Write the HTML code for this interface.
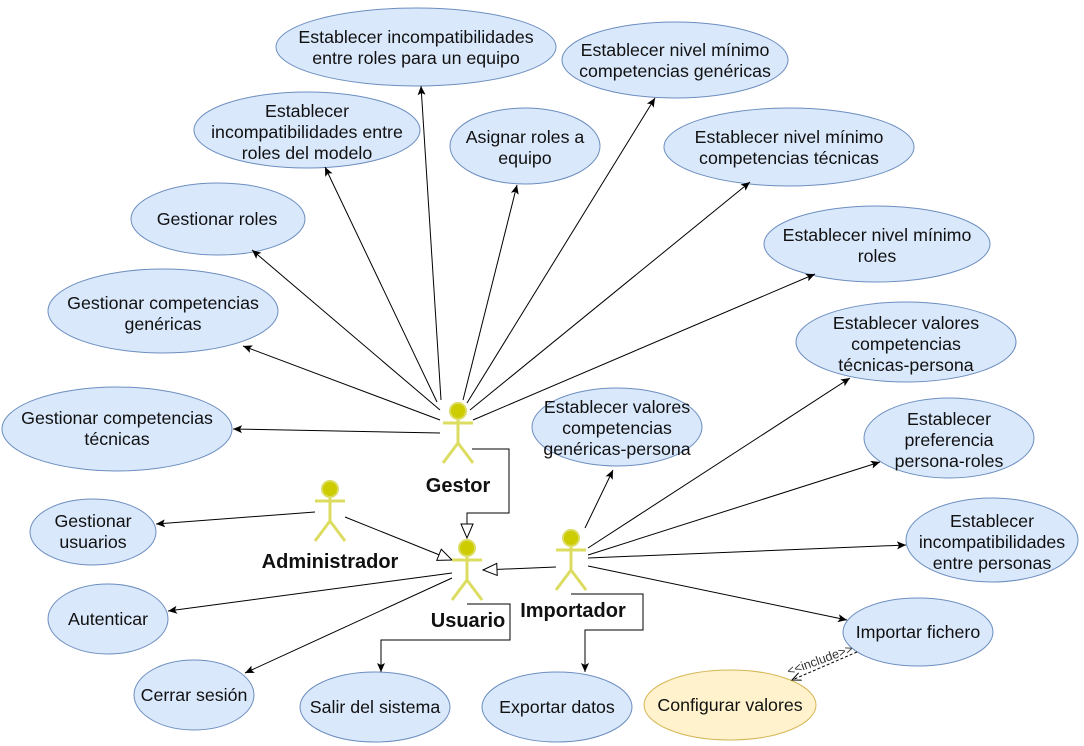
<!DOCTYPE html>
<html><head><meta charset="utf-8"><style>
html,body{margin:0;padding:0;background:#fff}
svg{display:block}
text{font-family:"Liberation Sans",sans-serif;font-size:17.8px;fill:#111;text-anchor:middle}
.e{fill:#dae8fc;stroke:#6c8ebf;stroke-width:1}
.l{stroke:#000;stroke-width:1;fill:none}
.a text{font-weight:bold;font-size:20px}
.act line{stroke:#dcdc60;stroke-width:3}
.act circle{fill:#cccc00;stroke:#dcdc60;stroke-width:2}
</style></head><body>
<svg width="1084" height="746" viewBox="0 0 1084 746" xmlns="http://www.w3.org/2000/svg">
<defs>
<marker id="ar" markerWidth="10" markerHeight="10" refX="9" refY="5" orient="auto" markerUnits="userSpaceOnUse"><path d="M0,1 L9,5 L0,9 L2,5 Z" fill="#000"/></marker>
<marker id="tri" markerWidth="16" markerHeight="14" refX="15" refY="7" orient="auto" markerUnits="userSpaceOnUse"><path d="M1,1 L15,7 L1,13 Z" fill="#fff" stroke="#000"/></marker>
<marker id="op" markerWidth="10" markerHeight="10" refX="9" refY="5" orient="auto" markerUnits="userSpaceOnUse"><path d="M0,1 L9,5 L0,9" fill="none" stroke="#000"/></marker>
</defs>
<!-- ellipses -->
<ellipse class="e" cx="416" cy="47" rx="140" ry="39"/>
<text x="416" y="43">Establecer incompatibilidades</text><text x="416" y="64">entre roles para un equipo</text>
<ellipse class="e" cx="675" cy="60" rx="113" ry="38"/>
<text x="675" y="56">Establecer nivel mínimo</text><text x="675" y="77">competencias genéricas</text>
<ellipse class="e" cx="307" cy="130" rx="113" ry="38"/>
<text x="307" y="117">Establecer</text><text x="307" y="138">incompatibilidades entre</text><text x="307" y="159">roles del modelo</text>
<ellipse class="e" cx="525" cy="146" rx="75" ry="38"/>
<text x="525" y="143">Asignar roles a</text><text x="525" y="164">equipo</text>
<ellipse class="e" cx="789" cy="147" rx="125" ry="39"/>
<text x="789" y="143">Establecer nivel mínimo</text><text x="789" y="164">competencias técnicas</text>
<ellipse class="e" cx="218" cy="219" rx="87" ry="36"/>
<text x="217" y="225">Gestionar roles</text>
<ellipse class="e" cx="877" cy="244" rx="113" ry="38"/>
<text x="877" y="241">Establecer nivel mínimo</text><text x="877" y="262">roles</text>
<ellipse class="e" cx="163" cy="311" rx="115" ry="42"/>
<text x="163" y="309">Gestionar competencias</text><text x="163" y="330">genéricas</text>
<ellipse class="e" cx="906" cy="342" rx="110" ry="40"/>
<text x="906" y="329">Establecer valores</text><text x="906" y="350">competencias</text><text x="906" y="371">técnicas-persona</text>
<ellipse class="e" cx="117" cy="429" rx="115" ry="42"/>
<text x="117" y="424">Gestionar competencias</text><text x="117" y="445">técnicas</text>
<ellipse class="e" cx="617" cy="427" rx="85" ry="39"/>
<text x="617" y="413">Establecer valores</text><text x="617" y="434">competencias</text><text x="617" y="455">genéricas-persona</text>
<ellipse class="e" cx="949" cy="438" rx="85" ry="40"/>
<text x="949" y="425">Establecer</text><text x="949" y="446">preferencia</text><text x="949" y="467">persona-roles</text>
<ellipse class="e" cx="93" cy="532" rx="63" ry="33"/>
<text x="93" y="527">Gestionar</text><text x="93" y="548">usuarios</text>
<ellipse class="e" cx="992" cy="540" rx="86" ry="42"/>
<text x="992" y="527">Establecer</text><text x="992" y="548">incompatibilidades</text><text x="992" y="569">entre personas</text>
<ellipse class="e" cx="108" cy="619" rx="60" ry="35"/>
<text x="108" y="625">Autenticar</text>
<ellipse class="e" cx="918" cy="632" rx="75" ry="34"/>
<text x="918" y="638">Importar fichero</text>
<ellipse class="e" cx="194" cy="695" rx="60" ry="35"/>
<text x="194" y="701">Cerrar sesión</text>
<ellipse class="e" cx="375" cy="707" rx="75" ry="35"/>
<text x="375" y="713">Salir del sistema</text>
<ellipse class="e" cx="557" cy="707" rx="75" ry="35"/>
<text x="557" y="713">Exportar datos</text>
<ellipse cx="730" cy="705" rx="86" ry="35" fill="#fff2cc" stroke="#d6b656"/>
<text x="730" y="711">Configurar valores</text>
<!-- lines -->
<g class="l">
<line x1="441" y1="400" x2="421" y2="86" marker-end="url(#ar)"/>
<line x1="437" y1="402" x2="325" y2="167" marker-end="url(#ar)"/>
<line x1="463" y1="400" x2="517" y2="185" marker-end="url(#ar)"/>
<line x1="467" y1="403" x2="655" y2="98" marker-end="url(#ar)"/>
<line x1="470" y1="410" x2="750" y2="182" marker-end="url(#ar)"/>
<line x1="473" y1="420" x2="815" y2="274" marker-end="url(#ar)"/>
<line x1="440" y1="410" x2="252" y2="250" marker-end="url(#ar)"/>
<line x1="440" y1="420" x2="243" y2="346" marker-end="url(#ar)"/>
<line x1="440" y1="433" x2="233" y2="429" marker-end="url(#ar)"/>
<polyline points="472,449 509,449 509,513 467,513 467,538" marker-end="url(#tri)"/>
<line x1="345" y1="517" x2="452" y2="560" marker-end="url(#tri)"/>
<line x1="556" y1="567" x2="483" y2="570" marker-end="url(#tri)"/>
<line x1="315" y1="512" x2="156" y2="524" marker-end="url(#ar)"/>
<line x1="452" y1="573" x2="168" y2="611" marker-end="url(#ar)"/>
<line x1="452" y1="578" x2="245" y2="673" marker-end="url(#ar)"/>
<polyline points="467,604 510,604 510,640 381,640 381,672" marker-end="url(#ar)"/>
<polyline points="571,594 643,594 643,630 585,630 585,672" marker-end="url(#ar)"/>
<line x1="585" y1="528" x2="613" y2="470" marker-end="url(#ar)"/>
<line x1="588" y1="548" x2="850" y2="378" marker-end="url(#ar)"/>
<line x1="588" y1="555" x2="880" y2="462" marker-end="url(#ar)"/>
<line x1="588" y1="558" x2="906" y2="545" marker-end="url(#ar)"/>
<line x1="588" y1="566" x2="847" y2="620" marker-end="url(#ar)"/>
<line x1="857" y1="652" x2="792" y2="680" stroke-dasharray="3,2" marker-end="url(#op)"/>
</g>
<text x="820" y="664" transform="rotate(-20 820 660)" style="font-size:12.5px;fill:#333">&lt;&lt;include&gt;&gt;</text>
<!-- actors -->
<g class="act">
<g transform="translate(458,0)"><circle cx="0" cy="411" r="8"/><line x1="0" y1="419" x2="0" y2="443"/><line x1="-15" y1="423" x2="15" y2="423"/><line x1="0" y1="443" x2="-15" y2="463"/><line x1="0" y1="443" x2="15" y2="463"/></g>
<g transform="translate(330,78)"><circle cx="0" cy="411" r="8"/><line x1="0" y1="419" x2="0" y2="443"/><line x1="-15" y1="423" x2="15" y2="423"/><line x1="0" y1="443" x2="-15" y2="463"/><line x1="0" y1="443" x2="15" y2="463"/></g>
<g transform="translate(467,137)"><circle cx="0" cy="411" r="8"/><line x1="0" y1="419" x2="0" y2="443"/><line x1="-15" y1="423" x2="15" y2="423"/><line x1="0" y1="443" x2="-15" y2="463"/><line x1="0" y1="443" x2="15" y2="463"/></g>
<g transform="translate(571,127)"><circle cx="0" cy="411" r="8"/><line x1="0" y1="419" x2="0" y2="443"/><line x1="-15" y1="423" x2="15" y2="423"/><line x1="0" y1="443" x2="-15" y2="463"/><line x1="0" y1="443" x2="15" y2="463"/></g>
</g>
<g class="a">
<text x="458" y="492">Gestor</text>
<text x="330" y="568">Administrador</text>
<text x="468" y="627">Usuario</text>
<text x="573" y="617">Importador</text>
</g>
</svg>
</body></html>
